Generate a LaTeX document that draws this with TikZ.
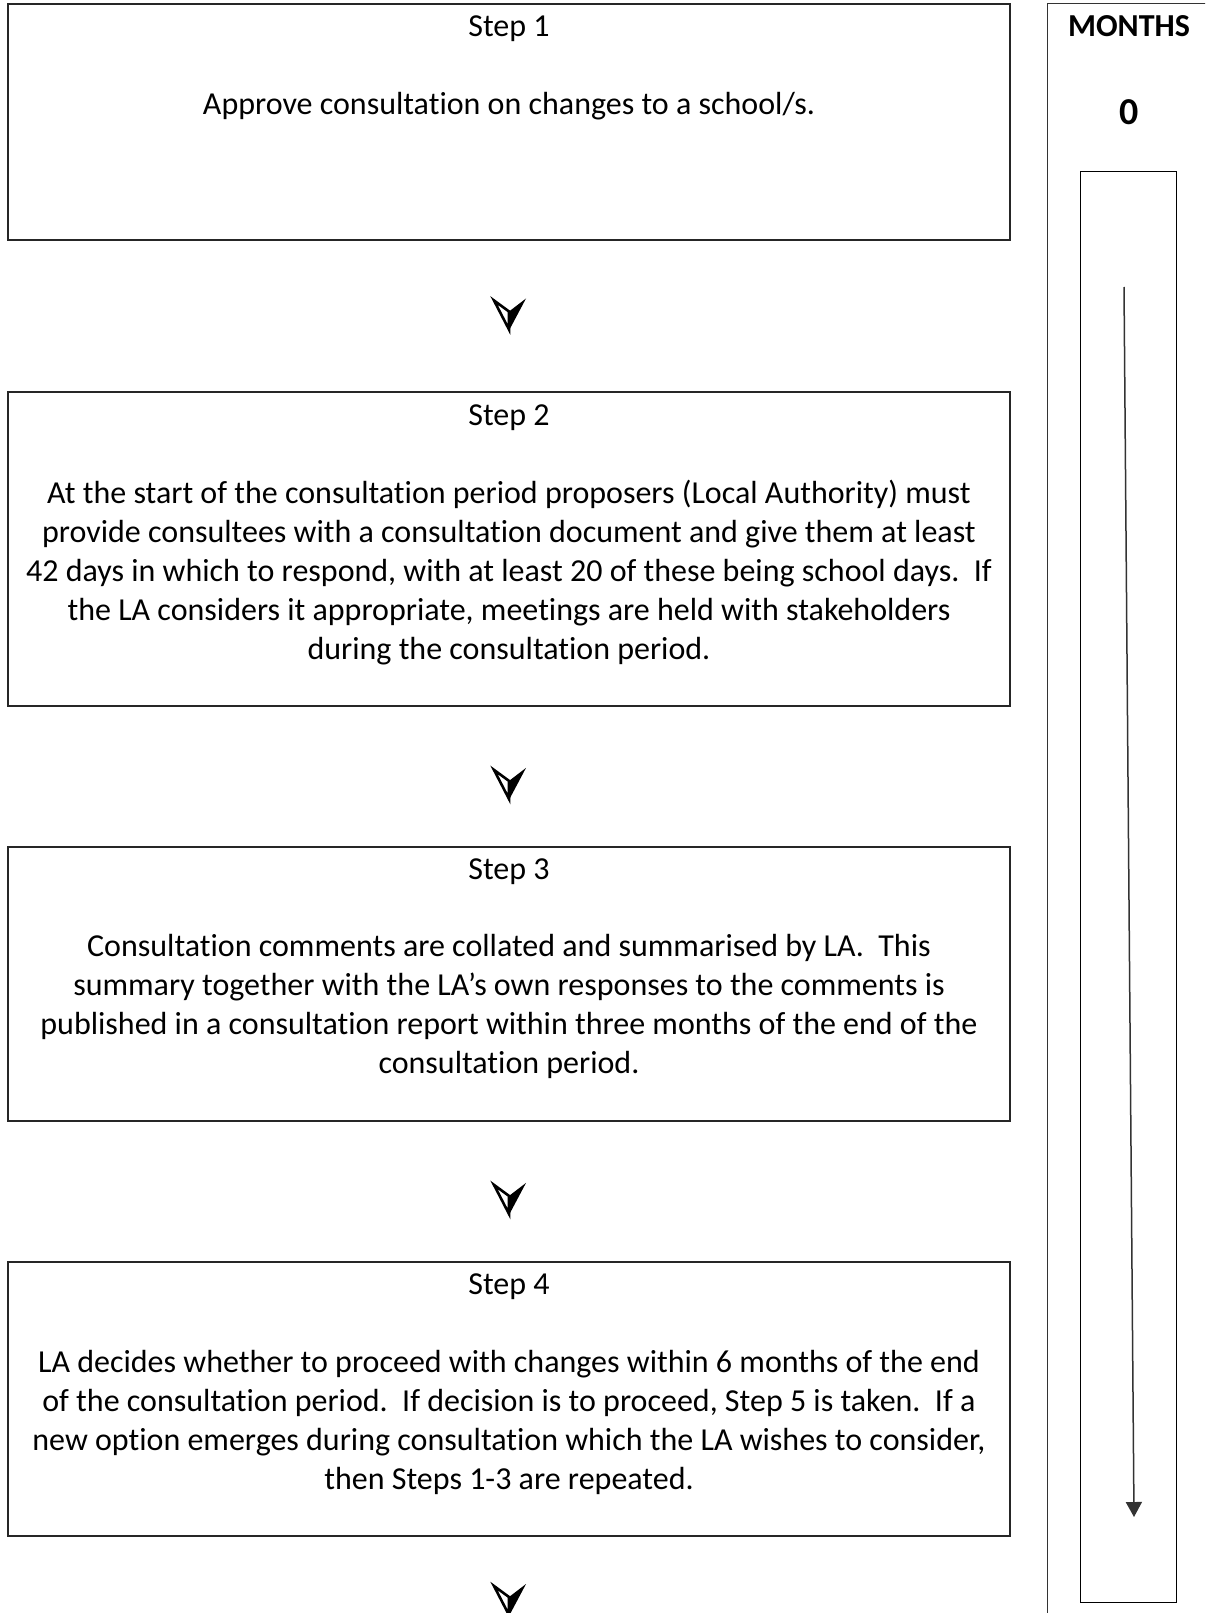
\documentclass[tikz,border=0pt]{standalone}
\usepackage{fontspec}
\setmainfont{Carlito}[Ligatures=NoCommon]
\usetikzlibrary{arrows.meta}
\tikzset{
  box/.style={draw=black!85, line width=1.3pt, rectangle, minimum width=1002pt, inner sep=0pt, fill=none},
  txt/.style={font=\fontsize{32}{39}\selectfont, align=center, inner sep=0pt, anchor=base},
  bold/.style={font=\fontsize{32}{39}\selectfont\bfseries, inner sep=0pt, anchor=base},
  chev/.pic={
    \filldraw[fill=white, draw=black, line width=2.6pt, line join=miter] (-15,-14) -- (0,-3) -- (0,15) -- cycle;
    \fill[black] (0,-3) -- (17,-16) -- (0,16) -- cycle;
  }
}
\begin{document}
\begin{tikzpicture}[x=1pt,y=-1pt]
\clip (0,0) rectangle (1205,1613);
\fill[white] (0,0) rectangle (1205,1613);
% main boxes
\node[box, minimum height=236pt] (s1) at (509,122) {};
\node[box, minimum height=314pt] (s2) at (509,549) {};
\node[box, minimum height=274pt] (s3) at (509,984) {};
\node[box, minimum height=274pt] (s4) at (509,1399) {};
\coordinate (c5) at (509,1600);
% texts (base anchor = baseline of last line)
\node[txt] (l1) at (509,37) {Step 1};
\node[txt] (t1) at (509,115) {Approve consultation on changes to a school/s.};
\node[txt] (l2) at (509,425) {Step 2};
\node[txt] (t2) at (509,659) {At the start of the consultation period proposers (Local Authority) must\\provide consultees with a consultation document and give them at least\\42 days in which to respond, with at least 20 of these being school days.\ \ If\\the LA considers it appropriate, meetings are held with stakeholders\\during the consultation period.};
\node[txt] (l3) at (509,879) {Step 3};
\node[txt] (t3) at (509,1073) {Consultation comments are collated and summarised by LA.\ \ This\\summary together with the LA’s own responses to the comments is\\published in a consultation report within three months of the end of the\\consultation period.};
\node[txt] (l4) at (509,1294) {Step 4};
\node[txt] (t4) at (509,1489) {LA decides whether to proceed with changes within 6 months of the end\\of the consultation period.\ \ If decision is to proceed, Step 5 is taken.\ \ If a\\new option emerges during consultation which the LA wishes to consider,\\then Steps 1-3 are repeated.};
% connectors (arrowheads)
\path (s1) -- (s2) pic[pos=0.49] {chev};
\path (s2) -- (s3) pic[pos=0.553] {chev};
\path (s3) -- (s4) pic[pos=0.553] {chev};
\path (s4) -- (c5) pic[pos=1] {chev};
% months column
\node[draw=black!80, line width=1.3pt, rectangle, minimum width=180pt, minimum height=1700pt, anchor=north west, inner sep=0pt] (mo) at (1047,3) {};
\node[bold] (mt) at (1129,37) {MONTHS};
\node[font=\fontsize{38}{44}\selectfont\bfseries, inner sep=0pt, anchor=base] (m0) at (1129,125) {0};
\node[draw=black, line width=1.2pt, rectangle, minimum width=96pt, minimum height=1431pt, anchor=north west, inner sep=0pt] (mi) at (1080,171) {};
\coordinate (ma) at (1124,287);
\coordinate (mb) at (1134,1517);
\draw[black!80, line width=1.5pt, -{Triangle[width=16pt,length=15pt]}] (ma) -- (mb);
\end{tikzpicture}
\end{document}
